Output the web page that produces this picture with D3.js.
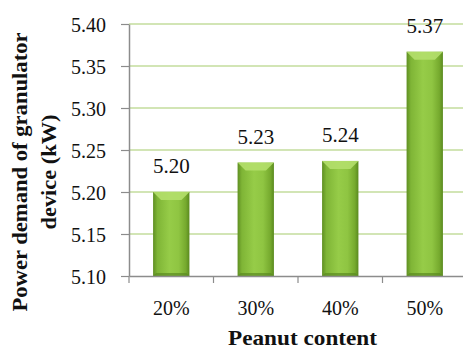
<!DOCTYPE html>
<html><head><meta charset="utf-8">
<script src="https://cdn.jsdelivr.net/npm/d3@7"></script>
<style>body{margin:0;background:#fff}svg{display:block}</style>
</head><body>
<svg id="c" width="463" height="352"></svg>
<script>
const categories = ["20%", "30%", "40%", "50%"];
const values = [5.20, 5.235, 5.237, 5.367];
const valueLabels = ["5.20", "5.23", "5.24", "5.37"];
const yTicks = [5.10, 5.15, 5.20, 5.25, 5.30, 5.35, 5.40];
const yTitle = ["Power demand of granulator", "device (kW)"];
const xTitle = "Peanut content";

const font = "Liberation Serif";
const svg = d3.select("#c");
const L = 129, R = 467, T = 24, B = 276;
const x = d3.scaleBand().domain(categories).range([L, R]).paddingInner(0.57).paddingOuter(0.285);
const xb = d3.scaleBand().domain(categories).range([L, R]);
const y = d3.scaleLinear().domain([5.10, 5.40]).range([B, T]);

const defs = svg.append("defs");
const g = defs.append("linearGradient").attr("id", "bg").attr("x1", 0).attr("x2", 1).attr("y1", 0).attr("y2", 0);
[[0, "#5f8f22"], [0.12, "#7fb536"], [0.45, "#96cc48"], [0.7, "#8fc542"], [0.9, "#76aa2e"], [1, "#5a8a1f"]]
  .forEach(([o, c]) => g.append("stop").attr("offset", o).attr("stop-color", c));

// gridlines
svg.append("g").selectAll("line").data(yTicks.slice(1)).join("line")
  .attr("x1", L).attr("x2", 463).attr("y1", d => y(d)).attr("y2", d => y(d))
  .attr("stroke", "#c3dd9c").attr("stroke-width", 1.5);

// bars
const bars = svg.append("g").selectAll("g").data(categories).join("g");
bars.append("rect")
  .attr("x", d => x(d)).attr("width", x.bandwidth())
  .attr("y", (d, i) => y(values[i])).attr("height", (d, i) => B - y(values[i]))
  .attr("fill", "url(#bg)");
bars.append("path")
  .attr("d", (d, i) => {
    const x0 = x(d), w = x.bandwidth(), t = y(values[i]), h = 8;
    return `M${x0},${t}L${x0 + w},${t}L${x0 + w - h},${t + h}L${x0 + h},${t + h}Z`;
  })
  .attr("fill", "#b4df6c").attr("opacity", 0.9);
bars.append("path")
  .attr("d", (d, i) => {
    const x0 = x(d), w = x.bandwidth(), h = 3;
    return `M${x0},${B}L${x0 + w},${B}L${x0 + w - h},${B - h}L${x0 + h},${B - h}Z`;
  })
  .attr("fill", "#5a8a1f").attr("opacity", 0.7);

// value labels
svg.append("g").selectAll("text").data(categories).join("text")
  .attr("x", d => x(d) + x.bandwidth() / 2)
  .attr("y", (d, i) => y(values[i]) - 19)
  .attr("text-anchor", "middle").attr("font-family", font).attr("font-size", 21).attr("fill", "#111")
  .text((d, i) => valueLabels[i]);

// y axis
const ya = svg.append("g").attr("transform", `translate(${L},0)`)
  .call(d3.axisLeft(y).tickValues(yTicks).tickFormat(d3.format(".2f")).tickSize(8).tickSizeOuter(0));
ya.attr("font-family", font);
ya.select(".domain").attr("stroke", "#8c8c8c").attr("stroke-width", 1.5);
ya.selectAll(".tick line").attr("stroke", "#8c8c8c").attr("stroke-width", 1.2);
ya.selectAll(".tick text").attr("font-family", font).attr("font-size", 20).attr("fill", "#111").attr("x", -23).attr("dy", "0.35em");

// x axis
const xa = svg.append("g").attr("transform", `translate(0,${B})`)
  .call(d3.axisBottom(xb).tickSize(0).tickSizeOuter(0));
xa.attr("font-family", font);
xa.select(".domain").attr("stroke", "#8c8c8c").attr("stroke-width", 1.5);
xa.selectAll(".tick text").attr("font-family", font).attr("font-size", 20).attr("fill", "#111").attr("dy", 0).attr("y", 39);
svg.append("g").selectAll("line").data(categories).join("line")
  .attr("x1", d => xb(d)).attr("x2", d => xb(d)).attr("y1", B).attr("y2", B + 7)
  .attr("stroke", "#8c8c8c").attr("stroke-width", 1.2);

// titles
svg.append("text").attr("x", 302.5).attr("y", 345).attr("text-anchor", "middle")
  .attr("font-family", font).attr("font-size", 21).attr("font-weight", "bold").attr("fill", "#111")
  .attr("textLength", 149).attr("lengthAdjust", "spacingAndGlyphs").text(xTitle);
const yt = svg.append("g").attr("transform", "translate(0,172) rotate(-90)");
yt.append("text").attr("x", 0).attr("y", 27).attr("text-anchor", "middle")
  .attr("font-family", font).attr("font-size", 21).attr("font-weight", "bold").attr("fill", "#111")
  .attr("textLength", 279).attr("lengthAdjust", "spacingAndGlyphs").text(yTitle[0]);
yt.append("text").attr("x", 0).attr("y", 56).attr("text-anchor", "middle")
  .attr("font-family", font).attr("font-size", 21).attr("font-weight", "bold").attr("fill", "#111")
  .attr("textLength", 115).attr("lengthAdjust", "spacingAndGlyphs").text(yTitle[1]);
</script>
</body></html>
